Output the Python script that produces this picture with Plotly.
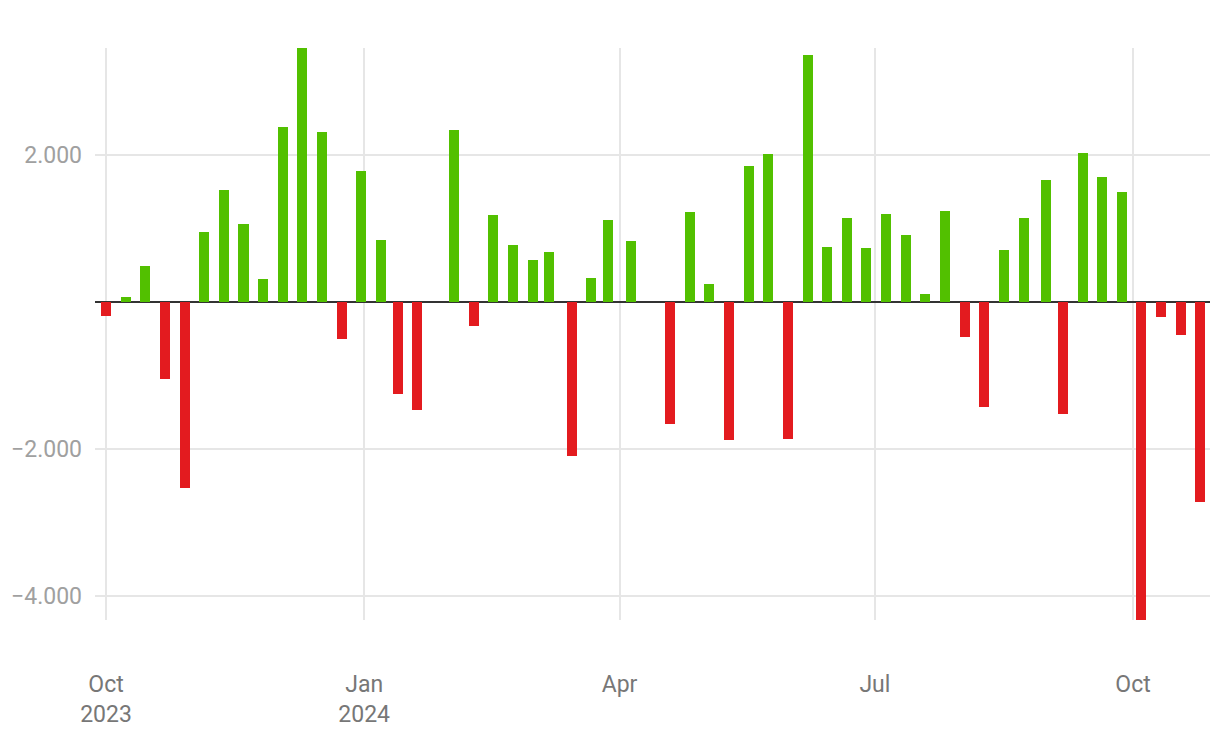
import plotly.graph_objects as go

dates = [
    "2023-10-01", "2023-10-08", "2023-10-15", "2023-10-22", "2023-10-29",
    "2023-11-05", "2023-11-12", "2023-11-19", "2023-11-26", "2023-12-03",
    "2023-12-10", "2023-12-17", "2023-12-24", "2023-12-31", "2024-01-07",
    "2024-01-13", "2024-01-20", "2024-02-02", "2024-02-09", "2024-02-16",
    "2024-02-23", "2024-03-01", "2024-03-07", "2024-03-15", "2024-03-22",
    "2024-03-28", "2024-04-05", "2024-04-19", "2024-04-26", "2024-05-03",
    "2024-05-10", "2024-05-17", "2024-05-24", "2024-05-31", "2024-06-07",
    "2024-06-14", "2024-06-21", "2024-06-28", "2024-07-05", "2024-07-12",
    "2024-07-19", "2024-07-26", "2024-08-02", "2024-08-09", "2024-08-16",
    "2024-08-23", "2024-08-31", "2024-09-06", "2024-09-13", "2024-09-20",
    "2024-09-27", "2024-10-04", "2024-10-11", "2024-10-18", "2024-10-25",
]

values = [
    -190, 63, 485, -1056, -2525,
    947, 1519, 1056, 308, 2376,
    3452, 2308, -499, 1778, 839,
    -1247, -1465, 2336, -335, 1179,
    771, 567, 676, -2090, 322,
    1111, 825, -1655, 1220, 240,
    -1873, 1846, 2009, -1859, 3356,
    744, 1138, 730, 1193, 907,
    104, 1234, -476, -1429, 703,
    1138, 1655, -1524, 2023, 1696,
    1492, -4327, -204, -449, -2716,
]

y_tickvals = [-4000, -2000, 2000]
x_tickvals = ["2023-10-01", "2024-01-01", "2024-04-01", "2024-07-01", "2024-10-01"]
x_ticktext = ["Oct<br>2023", "Jan<br>2024", "Apr", "Jul", "Oct"]
x_range = ["2023-09-27 02:00", "2024-10-28 10:00"]

GREEN = "#52c000"
RED = "#e31b1f"
colors = [GREEN if v >= 0 else RED for v in values]

bar_width_ms = 3.57 * 24 * 3600 * 1000

fig = go.Figure(
    go.Bar(
        x=dates,
        y=values,
        marker=dict(color=colors, line=dict(width=0)),
        width=[bar_width_ms] * len(values),
        showlegend=False,
    )
)

fig.update_layout(
    width=1220,
    height=744,
    margin=dict(l=95, r=10, t=48, b=124),
    paper_bgcolor="white",
    plot_bgcolor="white",
    separators=",.",
    font=dict(family="Roboto", size=23, color="#757575"),
    bargap=0,
)

fig.update_xaxes(
    type="date",
    range=x_range,
    tickvals=x_tickvals,
    ticktext=x_ticktext,
    showgrid=True,
    gridcolor="#e6e6e6",
    gridwidth=2,
    zeroline=False,
    showline=False,
    ticks="",
    ticklabelstandoff=48,
    tickfont=dict(family="Roboto", size=23, color="#777777"),
)

fig.update_yaxes(
    range=[min(values), max(values)],
    tickvals=y_tickvals,
    separatethousands=True,
    showgrid=True,
    gridcolor="#e6e6e6",
    gridwidth=2,
    zeroline=True,
    zerolinecolor="#333333",
    zerolinewidth=2,
    showline=False,
    ticks="",
    ticklabelstandoff=12,
    tickfont=dict(family="Roboto", size=23, color="#a0a0a0"),
)

fig.write_html("out.html")
